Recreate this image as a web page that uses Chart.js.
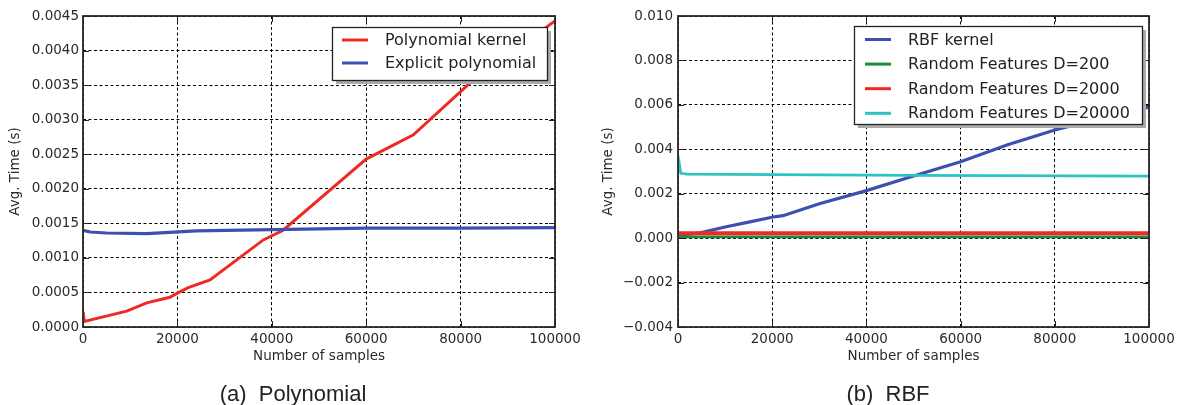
<!DOCTYPE html>
<html><head><meta charset="utf-8">
<script src="https://cdn.jsdelivr.net/npm/chart.js@4/dist/chart.umd.min.js"></script>
<style>
html,body{margin:0;padding:0;background:#fff;}
body{width:1181px;height:405px;position:relative;overflow:hidden;}
.wrap{position:absolute;top:0;height:405px;}
#w1{left:0;width:590px;} #w2{left:590px;width:591px;}
.cap{position:absolute;top:381px;font-family:"Liberation Sans",Arial,sans-serif;font-size:22px;color:#222;white-space:pre;transform:translateX(-50%);}
</style></head><body>
<div class="wrap" id="w1"><canvas id="c1" width="590" height="405"></canvas></div>
<div class="wrap" id="w2"><canvas id="c2" width="591" height="405"></canvas></div>
<div class="cap" style="left:293px">(a)  Polynomial</div>
<div class="cap" style="left:888px">(b)  RBF</div>
<script>
// ---- data ----
const xTitle = 'Number of samples';
const yTitle = 'Avg. Time (s)';

const polyLabels = ['Polynomial kernel', 'Explicit polynomial'];
const polyKernelX = [0, 300, 9250, 13500, 18400, 20000, 22300, 26900, 38200, 42400, 60000, 70000, 82300, 100000];
const polyKernelY = [0.00022, 0.00008, 0.00023, 0.00035, 0.00043, 0.00049, 0.00057, 0.00068, 0.00126, 0.00140, 0.00243, 0.00278, 0.00355, 0.00443];
const explicitX = [0, 1500, 5000, 13500, 24000, 40000, 60000, 80000, 100000];
const explicitY = [0.00140, 0.001375, 0.00136, 0.00135, 0.00139, 0.00141, 0.00143, 0.00143, 0.001437];

const rbfLabels = ['RBF kernel', 'Random Features D=200', 'Random Features D=2000', 'Random Features D=20000'];
const rbfX = [0, 4700, 10000, 15000, 20200, 22300, 30000, 40000, 50000, 60000, 70000, 80000, 90000, 100000];
const rbfY = [0.00012, 0.00024, 0.0005, 0.00072, 0.00095, 0.00101, 0.00155, 0.00214, 0.0028, 0.00344, 0.0042, 0.00487, 0.0054, 0.0059];
const d200X = [0, 100000];
const d200Y = [0.00006, 0.00006];
const d2000X = [0, 100000];
const d2000Y = [0.00022, 0.00022];
const d20000X = [0, 600, 2000, 20000, 50000, 100000];
const d20000Y = [0.0037, 0.00292, 0.00288, 0.00286, 0.00283, 0.00279];

const xMin = 0, xMax = 100000, xStep = 20000;
const polyYMin = 0, polyYMax = 0.0045, polyYStep = 0.0005;
const rbfYMin = -0.004, rbfYMax = 0.010, rbfYStep = 0.002;

// ---- helpers ----
const pts = (xs, ys) => xs.map((x, i) => ({x, y: ys[i]}));
const FONT = '"DejaVu Sans", sans-serif';
const TXT = '#2a2a2a';

const framePlugin = {
  id: 'frame',
  afterDraw(chart, args, opts) {
    const {ctx, chartArea: a, scales: {x, y}} = chart;
    ctx.save();
    ctx.strokeStyle = '#222';
    ctx.lineWidth = 1;
    const L = 6;
    ctx.beginPath();
    x.ticks.forEach(t => {
      const px = Math.round(x.getPixelForValue(t.value)) + 0.5;
      ctx.moveTo(px, a.bottom); ctx.lineTo(px, a.bottom - L);
      ctx.moveTo(px, a.top); ctx.lineTo(px, a.top + L);
    });
    y.ticks.forEach(t => {
      const py = Math.round(y.getPixelForValue(t.value)) + 0.5;
      ctx.moveTo(a.left, py); ctx.lineTo(a.left + L, py);
      ctx.moveTo(a.right, py); ctx.lineTo(a.right - L, py);
    });
    ctx.stroke();
    ctx.lineWidth = 1.8;
    ctx.strokeStyle = '#262626';
    ctx.strokeRect(a.left, a.top, a.right - a.left, a.bottom - a.top);

    // legend box
    const lg = opts;
    ctx.fillStyle = '#aaaaaa';
    ctx.fillRect(lg.x + 4, lg.y + 4, lg.w, lg.h);
    ctx.fillStyle = '#fff';
    ctx.fillRect(lg.x, lg.y, lg.w, lg.h);
    ctx.lineWidth = 1.3;
    ctx.strokeStyle = '#222';
    ctx.strokeRect(lg.x + 0.5, lg.y + 0.5, lg.w, lg.h);
    ctx.font = lg.fontSize + 'px ' + FONT;
    ctx.textBaseline = 'middle';
    ctx.textAlign = 'left';
    chart.data.datasets.forEach((ds, i) => {
      const ry = lg.row0 + i * lg.rowStep;
      ctx.strokeStyle = ds.borderColor;
      ctx.lineWidth = 3;
      ctx.beginPath();
      ctx.moveTo(lg.lx0, ry); ctx.lineTo(lg.lx1, ry);
      ctx.stroke();
      ctx.fillStyle = '#222';
      ctx.fillText(ds.label, lg.tx, ry + 1);
    });
    ctx.restore();
  }
};

function makeOpts(cfg) {
  return {
    responsive: false,
    animation: false,
    devicePixelRatio: 1,
    layout: {padding: {left: 0, top: 16, right: cfg.padRight, bottom: 38}},
    plugins: {legend: {display: false}, tooltip: {enabled: false}, frame: cfg.legend},
    elements: {point: {radius: 0}, line: {tension: 0}},
    scales: {
      x: {
        type: 'linear', min: xMin, max: xMax,
        ticks: {stepSize: xStep, color: TXT, padding: 4, font: {family: FONT, size: 13.5},
                maxRotation: 0, autoSkip: false, callback: v => String(v)},
        grid: {color: '#000', lineWidth: 1, drawTicks: false},
        border: {display: false, dash: [3, 2.5]},
        title: {display: true, text: xTitle, color: TXT, font: {family: FONT, size: 13.5}, padding: {top: 0, bottom: 2}},
        afterFit: s => { s.height = 40; }
      },
      y: {
        type: 'linear', min: cfg.yMin, max: cfg.yMax,
        ticks: {stepSize: cfg.yStep, color: TXT, padding: cfg.yTickPad, font: {family: FONT, size: 13.5},
                autoSkip: false, callback: cfg.fmt},
        grid: {color: '#000', lineWidth: 1, drawTicks: false},
        border: {display: false, dash: [3, 2.5]},
        title: {display: true, text: yTitle, color: TXT, font: {family: FONT, size: 13.5}, padding: {top: cfg.yTitlePad, bottom: 0}},
        afterFit: s => { s.width = cfg.yWidth; }
      }
    }
  };
}

new Chart(document.getElementById('c1'), {
  type: 'line',
  data: {datasets: [
    {label: polyLabels[0], data: pts(polyKernelX, polyKernelY), borderColor: '#ee2a24', borderWidth: 3, order: 2},
    {label: polyLabels[1], data: pts(explicitX, explicitY), borderColor: '#3d50b0', borderWidth: 3.2, order: 1}
  ]},
  options: makeOpts({
    padRight: 35, yMin: polyYMin, yMax: polyYMax, yStep: polyYStep, yTickPad: 4, yTitlePad: 7, yWidth: 83,
    fmt: v => (Math.abs(v) < 1e-12 ? 0 : v).toFixed(4),
    legend: {x: 332, y: 27, w: 215, h: 53, row0: 40, rowStep: 23, lx0: 342, lx1: 368, tx: 385, fontSize: 16}
  }),
  plugins: [framePlugin]
});

new Chart(document.getElementById('c2'), {
  type: 'line',
  data: {datasets: [
    {label: rbfLabels[0], data: pts(rbfX, rbfY), borderColor: '#3d50b0', borderWidth: 3.2, order: 4},
    {label: rbfLabels[1], data: pts(d200X, d200Y), borderColor: '#1a8a3c', borderWidth: 2.8, order: 3},
    {label: rbfLabels[2], data: pts(d2000X, d2000Y), borderColor: '#ee2a24', borderWidth: 3.8, order: 2},
    {label: rbfLabels[3], data: pts(d20000X, d20000Y), borderColor: '#2cc3c3', borderWidth: 2.8, order: 1}
  ]},
  options: makeOpts({
    padRight: 32, yMin: rbfYMin, yMax: rbfYMax, yStep: rbfYStep, yTickPad: 5, yTitlePad: 10, yWidth: 88,
    fmt: v => { const s = (Math.abs(v) < 1e-12 ? 0 : v).toFixed(3); return s.replace('-', '\u2212'); },
    legend: {x: 264, y: 26, w: 288, h: 98, row0: 39.5, rowStep: 24.6, lx0: 275, lx1: 301, tx: 318, fontSize: 16}
  }),
  plugins: [framePlugin]
});
</script>
</body></html>
